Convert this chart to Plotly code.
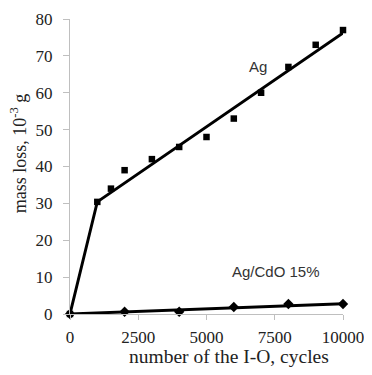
import plotly.graph_objects as go

# Ag measured points
ag_x = [0, 1000, 1500, 2000, 3000, 4000, 5000, 6000, 7000, 8000, 9000, 10000]
ag_y = [0, 30.4, 34, 39, 42, 45.3, 48, 53, 60, 67, 73, 77]
# Ag trend (polyline)
ag_fit_x = [0, 1000, 10000]
ag_fit_y = [0, 30.4, 76.2]

# Ag/CdO 15% measured points
cdo_x = [0, 2000, 4000, 6000, 8000, 10000]
cdo_y = [0, 0.6, 0.6, 1.9, 2.7, 2.7]
cdo_fit_x = [0, 10000]
cdo_fit_y = [0, 2.8]

x_ticks = [0, 2500, 5000, 7500, 10000]
x_tick_labels = ["0", "2500", "5000", "7500", "10000"]
y_ticks = [0, 10, 20, 30, 40, 50, 60, 70, 80]

serif = "Liberation Serif, Times New Roman, serif"
sans = "Liberation Sans, Arial, sans-serif"

fig = go.Figure()
fig.add_trace(go.Scatter(x=ag_fit_x, y=ag_fit_y, mode="lines",
                         line=dict(color="black", width=2.9), cliponaxis=False,
                         showlegend=False, hoverinfo="skip"))
fig.add_trace(go.Scatter(x=ag_x, y=ag_y, mode="markers",
                         marker=dict(symbol="square", size=6.5, color="black"),
                         cliponaxis=False, showlegend=False))
fig.add_trace(go.Scatter(x=cdo_fit_x, y=cdo_fit_y, mode="lines",
                         line=dict(color="black", width=2.9), cliponaxis=False,
                         showlegend=False, hoverinfo="skip"))
fig.add_trace(go.Scatter(x=cdo_x, y=cdo_y, mode="markers",
                         marker=dict(symbol="diamond", size=8, color="black"),
                         cliponaxis=False, showlegend=False))

fig.add_annotation(x=6886, y=67.2, text="Ag", showarrow=False,
                   font=dict(family=sans, size=15, color="#333"))
fig.add_annotation(x=7545, y=11.4, text="Ag/CdO 15%", showarrow=False,
                   font=dict(family=sans, size=15, color="#333"))
fig.add_annotation(xref="paper", yref="paper", x=-0.186, y=0.546,
                   text="mass loss, 10<sup>-3</sup> g", textangle=-90,
                   showarrow=False, xanchor="center", yanchor="middle",
                   font=dict(family=serif, size=18, color="#222"))
fig.add_annotation(xref="paper", yref="paper", x=0.582, y=-0.143,
                   text="number of the I-O, cycles",
                   showarrow=False, xanchor="center", yanchor="middle",
                   font=dict(family=serif, size=19.5, color="#222"))

# page body has an 8px default margin: shrink figure and left/top margins to compensate
fig.update_layout(
    width=364, height=367,
    margin=dict(l=62, r=29, t=11, b=61),
    paper_bgcolor="white", plot_bgcolor="white",
    font=dict(family=serif, size=17, color="#222"),
)
fig.update_xaxes(range=[0, 10000], tickmode="array", tickvals=x_ticks,
                 ticktext=x_tick_labels, tickangle=0,
                 showgrid=False, zeroline=False, showline=True, linecolor="#bfbfbf",
                 linewidth=1, ticks="outside", tickcolor="#bfbfbf", ticklen=5,
                 ticklabelstandoff=3, automargin=False,
                 tickfont=dict(family=serif, size=17, color="#222"))
fig.update_yaxes(range=[0, 80], tickmode="array", tickvals=y_ticks,
                 showgrid=False, zeroline=False,
                 showline=True, linecolor="#bfbfbf", linewidth=1, ticks="outside",
                 tickcolor="#bfbfbf", ticklen=6, ticklabelstandoff=7, automargin=False,
                 tickfont=dict(family=serif, size=17, color="#222"))

fig.write_html("out.html")
